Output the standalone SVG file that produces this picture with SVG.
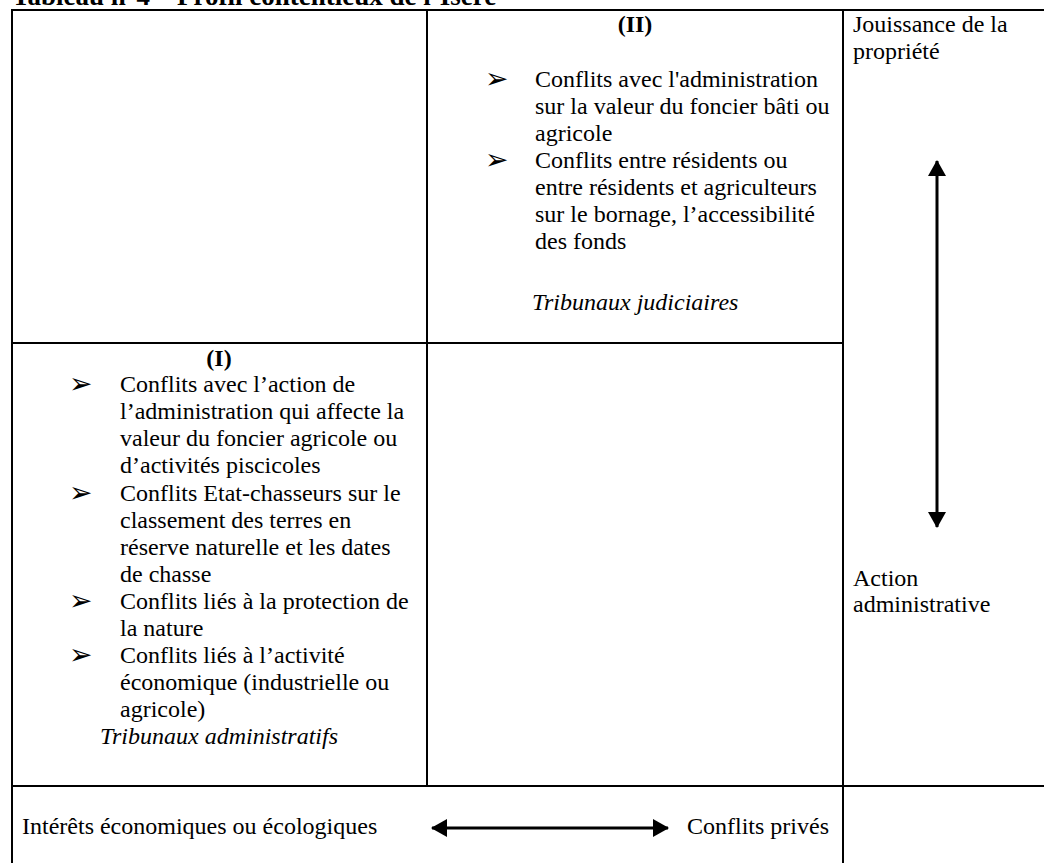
<svg xmlns="http://www.w3.org/2000/svg" width="1044" height="863" viewBox="0 0 1044 863">
<style>
text{font-family:"Liberation Serif","Times New Roman",serif;font-size:24px;fill:#000}
.b{font-weight:bold}
.t{font-weight:bold;font-size:27px}
.i{font-style:italic}
.bul{font-family:"DejaVu Sans","Liberation Serif",sans-serif;font-size:28px}
.grid{stroke:#000;stroke-width:2;fill:none}
.arr{stroke:#000;stroke-width:3;fill:none}
</style>
<defs>
<marker id="ah" viewBox="0 0 16 18" refX="15" refY="9" markerWidth="16" markerHeight="18" orient="auto-start-reverse" markerUnits="userSpaceOnUse">
<path d="M0,0 L16,9 L0,18 Z" fill="#000"/>
</marker>
</defs>
<rect width="1044" height="863" fill="#fff"/>
<text class="t" x="12" y="5">Tableau n°4 – Profil contentieux de l’Isère</text>
<g id="grid">
<line class="grid" x1="11" y1="10" x2="1044" y2="10"/>
<line class="grid" x1="12" y1="9" x2="12" y2="863"/>
<line class="grid" x1="427" y1="10" x2="427" y2="786"/>
<line class="grid" x1="843" y1="10" x2="843" y2="863"/>
<line class="grid" x1="12" y1="343" x2="843" y2="343"/>
<line class="grid" x1="12" y1="786" x2="1044" y2="786"/>
</g>
<g id="cell-II">
<text class="b" x="635" y="32" text-anchor="middle">(II)</text>
<text class="bul" x="485" y="88">➢</text>
<text x="535" y="87">Conflits avec l'administration</text>
<text x="535" y="114">sur la valeur du foncier bâti ou</text>
<text x="535" y="141">agricole</text>
<text class="bul" x="485" y="169">➢</text>
<text x="535" y="168">Conflits entre résidents ou</text>
<text x="535" y="195">entre résidents et agriculteurs</text>
<text x="535" y="222">sur le bornage, l’accessibilité</text>
<text x="535" y="249">des fonds</text>
<text class="i" x="532" y="310">Tribunaux judiciaires</text>
</g>
<g id="cell-I">
<text class="b" x="219" y="366" text-anchor="middle">(I)</text>
<text class="bul" x="69" y="393">➢</text>
<text x="120" y="392">Conflits avec l’action de</text>
<text x="120" y="419">l’administration qui affecte la</text>
<text x="120" y="446">valeur du foncier agricole ou</text>
<text x="120" y="473">d’activités piscicoles</text>
<text class="bul" x="69" y="502">➢</text>
<text x="120" y="501">Conflits Etat-chasseurs sur le</text>
<text x="120" y="528">classement des terres en</text>
<text x="120" y="555">réserve naturelle et les dates</text>
<text x="120" y="582">de chasse</text>
<text class="bul" x="69" y="610">➢</text>
<text x="120" y="609">Conflits liés à la protection de</text>
<text x="120" y="636">la nature</text>
<text class="bul" x="69" y="664">➢</text>
<text x="120" y="663">Conflits liés à l’activité</text>
<text x="120" y="690">économique (industrielle ou</text>
<text x="120" y="717">agricole)</text>
<text class="i" x="100" y="744">Tribunaux administratifs</text>
</g>
<g id="axis-vertical-labels">
<text x="853" y="32">Jouissance de la</text>
<text x="853" y="59">propriété</text>
<text x="853" y="586">Action</text>
<text x="853" y="612">administrative</text>
</g>
<g id="axis-horizontal-labels">
<text x="22" y="834">Intérêts économiques ou écologiques</text>
<text x="687" y="834">Conflits privés</text>
</g>
<g id="connectors">
<line class="arr" x1="937" y1="161" x2="937" y2="527" marker-start="url(#ah)" marker-end="url(#ah)"/>
<line class="arr" x1="432" y1="828" x2="668" y2="828" marker-start="url(#ah)" marker-end="url(#ah)"/>
</g>
</svg>
